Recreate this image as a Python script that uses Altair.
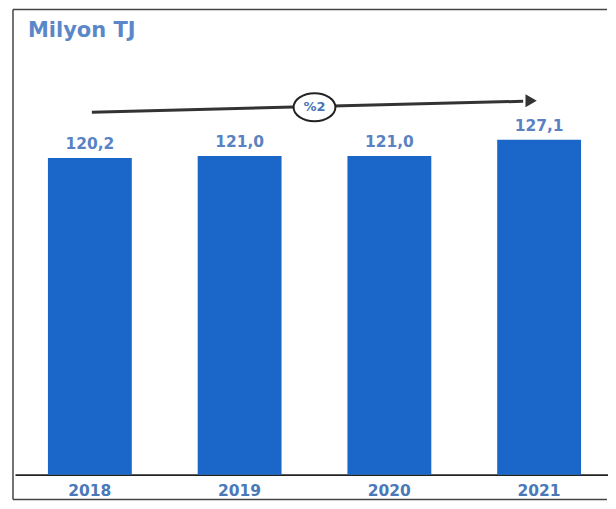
import altair as alt
import pandas as pd

years = ["2018", "2019", "2020", "2021"]
values = [120.2, 121.0, 121.0, 127.1]
labels = [f"{v:.1f}".replace(".", ",") for v in values]
unit_title = "Milyon TJ"
growth_label = "%2"

df = pd.DataFrame({"year": years, "value": values, "label": labels})

FONT = "DejaVu Sans"
BAR = "#1a66c9"
TXT = "#5a82c2"

x_enc = alt.X("year:N", sort=years,
              scale=alt.Scale(range=[7, 607], paddingInner=0.44, paddingOuter=0.22),
              axis=alt.Axis(title=None, labelAngle=0, ticks=False, domain=True,
                            domainColor="#222222", domainWidth=1.6,
                            labelFont=FONT, labelFontWeight="bold", labelFontSize=15.5,
                            labelColor="#4a78b8", labelPadding=9))
y_enc = alt.Y("value:Q", scale=alt.Scale(domain=[0, 177], nice=False, zero=True), axis=None)

base = alt.Chart(df)
bars = base.mark_bar(color=BAR).encode(x=x_enc, y=y_enc)
text = base.mark_text(dy=-14, font=FONT, fontWeight="bold", fontSize=15.5,
                      color=TXT).encode(x=alt.X("year:N", sort=years), y="value:Q", text="label:N")

one = alt.Data(values=[{}])
title = alt.Chart(one).mark_text(align="left", baseline="middle", font=FONT,
                                 fontWeight="bold", fontSize=21, color="#5b87c9").encode(
    x=alt.value(20), y=alt.value(23), text=alt.value(unit_title))

arrow = alt.Chart(one).mark_rule(color="#333333", strokeWidth=3).encode(
    x=alt.value(84), y=alt.value(104), x2=alt.value(516), y2=alt.value(93))
head = alt.Chart(one).mark_point(shape="triangle-right", filled=True, color="#333333",
                                 size=170, opacity=1).encode(
    x=alt.value(524), y=alt.value(92.5))
ellipse = alt.Chart(one).mark_point(
    shape="M-1.5,0 A1.5,1 0 1,1 1.5,0 A1.5,1 0 1,1 -1.5,0 Z",
    filled=True, fill="white", stroke="#222222", strokeWidth=2, size=780, opacity=1).encode(
    x=alt.value(307), y=alt.value(99))
etext = alt.Chart(one).mark_text(font=FONT, fontWeight="bold", fontSize=13,
                                 color="#4a74b8", baseline="middle").encode(
    x=alt.value(307), y=alt.value(99), text=alt.value(growth_label))

fc = "#444444"
frame_top = alt.Chart(one).mark_rule(color=fc, strokeWidth=1.5).encode(
    x=alt.value(5), x2=alt.value(600), y=alt.value(1))
frame_left = alt.Chart(one).mark_rule(color=fc, strokeWidth=1.5).encode(
    x=alt.value(5), y=alt.value(1), y2=alt.value(492))
frame_bottom = alt.Chart(one).mark_rule(color=fc, strokeWidth=1.5).encode(
    x=alt.value(5), x2=alt.value(600), y=alt.value(492))

chart = alt.layer(bars, text, title, arrow, head, ellipse, etext,
                  frame_top, frame_left, frame_bottom).properties(
    width=600, height=467, padding=0, background="white"
).configure_view(stroke=None)

chart.save("out.html", embed_options={"renderer": "svg", "actions": False})
